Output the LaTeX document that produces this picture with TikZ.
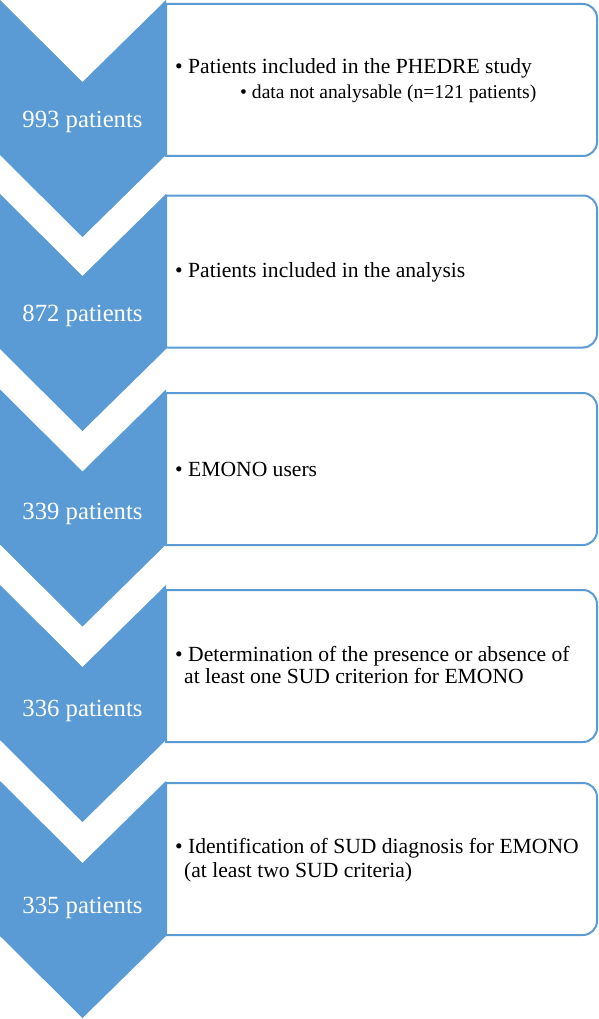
\documentclass[tikz,border=0pt]{standalone}
\usepackage{fontspec}
\setmainfont{Liberation Serif}
\definecolor{chev}{HTML}{5B9BD5}
\tikzset{
  chevtext/.style={text=white, font=\fontsize{24.7}{28}\selectfont, inner sep=0pt, anchor=base},
  boxtext/.style={text=black, font=\fontsize{21.6}{24}\selectfont, inner sep=0pt, anchor=base west},
  subtext/.style={text=black, font=\fontsize{19.6}{23}\selectfont, inner sep=0pt, anchor=base west},
  infobox/.style={draw=chev, line width=2pt, fill=white},
  chevshape/.style={fill=chev, draw=none}
}
\newcommand{\infoboxat}[1]{%
  \path[infobox] (166,#1) -- (583,#1) arc[start angle=-90,end angle=0,radius=14]
    -- (597,#1+138) arc[start angle=0,end angle=90,radius=14] -- (166,#1+152) -- cycle;}
\newcommand{\chevat}[1]{%
  \path[chevshape] (0,#1) -- (82.5,#1+82) -- (166,#1) -- (166,#1+155) -- (82.5,#1+237) -- (0,#1+155) -- cycle;}
\begin{document}
\begin{tikzpicture}[x=1pt,y=-1pt]
\useasboundingbox (0,0) rectangle (598,1019);
% boxes
\infoboxat{4}
\infoboxat{195.5}
\infoboxat{393}
\infoboxat{590}
\infoboxat{783}
% chevrons
\chevat{0}
\chevat{194}
\chevat{389.5}
\chevat{585}
\chevat{781}
% chevron labels
\node[chevtext] (c1) at (82.5,128) {993 patients};
\node[chevtext] (c2) at (82.5,321) {872 patients};
\node[chevtext] (c3) at (82.5,519) {339 patients};
\node[chevtext] (c4) at (82.5,716) {336 patients};
\node[chevtext] (c5) at (82.5,913) {335 patients};
% box texts
\node[boxtext] (t1a) at (175,74) {•\ Patients included in the PHEDRE study};
\node[subtext] (t1b) at (240,99) {•\ data not analysable (n=121 patients)};
\node[boxtext] (t2) at (175,277) {•\ Patients included in the analysis};
\node[boxtext] (t3) at (175,476) {•\ EMONO users};
\node[boxtext] (t4a) at (175,661) {•\ Determination of the presence or absence of};
\node[boxtext] (t4b) at (184,683) {at least one SUD criterion for EMONO};
\node[boxtext] (t5a) at (175,853) {•\ Identification of SUD diagnosis for EMONO};
\node[boxtext] (t5b) at (184,877) {(at least two SUD criteria)};
\end{tikzpicture}
\end{document}
